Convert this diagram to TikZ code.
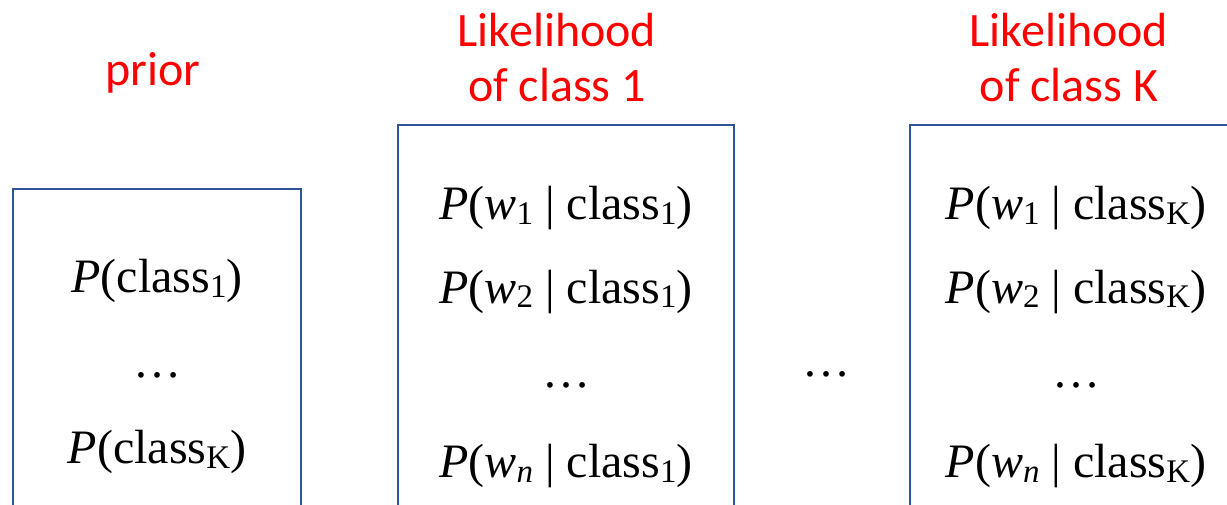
\documentclass[tikz,border=0pt]{standalone}
\usepackage{fontspec}
\setmainfont{Liberation Serif}
\newfontfamily\labfont{Carlito}
\definecolor{boxblue}{HTML}{2F5597}
\definecolor{labred}{HTML}{FF0000}
\newcommand{\mysub}[1]{\raisebox{-5pt}{\fontsize{33}{33}\selectfont #1}}
\begin{document}
\begin{tikzpicture}[x=1pt,y=-1pt,
  tbl/.style={draw=boxblue,line width=2.2pt,fill=none},
  cell/.style={anchor=base,inner sep=0pt,font=\fontsize{48}{56}\selectfont},
  lab/.style={anchor=base,inner sep=0pt,text=labred,font=\labfont\fontsize{48}{57}\selectfont,align=center}]
\useasboundingbox (0,0) rectangle (1227,505);
\clip (0,0) rectangle (1227,505);
% boxes
\draw[tbl] (13,189) rectangle (301,530);
\draw[tbl] (398,125) rectangle (734,530);
\draw[tbl] (910,125) rectangle (1260,530);
% prior
\node[lab] (lprior) at (153,86) {prior};
\node[cell] (p1) at (157,293) {\textit{P}(class\mysub{1})};
\node[cell] (pd) at (157,377) {…};
\node[cell] (pk) at (157,463) {\textit{P}(class\mysub{K})};
% class 1
\node[lab] (l1a) at (557,47) {Likelihood};
\node[lab] (l1b) at (557,102) {of class 1};
\node[cell] (a1) at (566,220) {\textit{P}(\textit{w}\mysub{1} | class\mysub{1})};
\node[cell] (a2) at (566,303) {\textit{P}(\textit{w}\mysub{2} | class\mysub{1})};
\node[cell] (ad) at (566,387) {…};
\node[cell] (an) at (566,477) {\textit{P}(\textit{w}\mysub{\textit{n}} | class\mysub{1})};
% middle dots
\node[cell] (mid) at (826,376) {…};
% class K
\node[lab] (lka) at (1069,47) {Likelihood};
\node[lab] (lkb) at (1069,102) {of class K};
\node[cell] (b1) at (1076,220) {\textit{P}(\textit{w}\mysub{1} | class\mysub{K})};
\node[cell] (b2) at (1076,303) {\textit{P}(\textit{w}\mysub{2} | class\mysub{K})};
\node[cell] (bd) at (1076,387) {…};
\node[cell] (bn) at (1076,477) {\textit{P}(\textit{w}\mysub{\textit{n}} | class\mysub{K})};
\end{tikzpicture}
\end{document}
